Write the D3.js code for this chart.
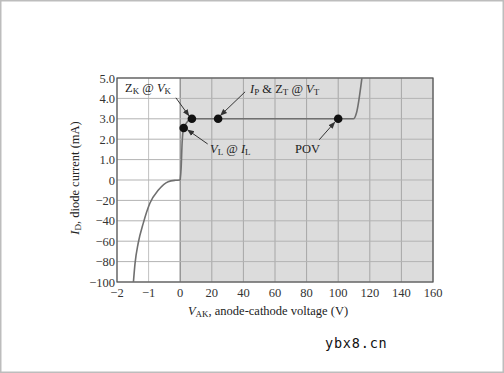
<!DOCTYPE html>
<html>
<head>
<meta charset="utf-8">
<script src="https://cdn.jsdelivr.net/npm/d3@7"></script>
<style>
  body { margin: 0; background: #fff; }
  svg { display: block; }
</style>
</head>
<body>
<div id="chart"></div>
<script>
// x ticks (V) and y ticks (mA) - both axes have a broken scale
var xTicks = [-2, -1, 0, 20, 40, 60, 80, 100, 120, 140, 160];
var yTicks = [-100, -80, -60, -40, -20, 0, 1, 2, 3, 4, 5];

// reverse-bias branch
var revV = [-1.48, -1.43, -1.33, -1.17, -0.96, -0.69, -0.38, -0.15, 0];
var revI = [-100, -82, -62, -42.5, -22.8, -9.8, -1.6, -0.3, 0];

// forward branch
var fwdV = [0, 0.6, 1.2, 2.2, 7.4, 100, 109.6, 111.6, 115];
var fwdI = [0, 0.6, 1.8, 2.55, 3.0, 3.0, 3.0, 3.3, 5.0];

// marked points
var markName = ["ZK", "IP", "VL", "POV"];
var markV = [7.4, 24, 2.2, 100];
var markI = [3.0, 3.0, 2.55, 3.0];

var W = 504, H = 373;
var mLeft = 117, mRight = 433, mTop = 78, mBottom = 282;

var svg = d3.select("#chart").append("svg")
    .attr("width", W)
    .attr("height", H);

// outer frame of the picture
svg.append("rect")
    .attr("x", 0.75).attr("y", 0.75)
    .attr("width", W - 1.5).attr("height", H - 1.5)
    .attr("fill", "none")
    .attr("stroke", "#bdbdbd")
    .attr("stroke-width", 1.5);

var x = d3.scaleLinear().domain([-2, 0, 160]).range([mLeft, mLeft + 63.2, mRight]);
var y = d3.scaleLinear().domain([-100, 0, 5]).range([mBottom, mBottom - 102, mTop]);

var g = svg.append("g");

// shaded forward region
g.append("rect")
    .attr("x", x(0)).attr("y", mTop)
    .attr("width", x(160) - x(0)).attr("height", mBottom - mTop)
    .attr("fill", "#dcdcdc");

// grid
g.selectAll(".vgrid").data(xTicks).enter().append("line")
    .attr("x1", d => x(d)).attr("x2", d => x(d))
    .attr("y1", mTop).attr("y2", mBottom)
    .attr("stroke", d => d == 0 ? "#8a8a8a" : (d > 0 ? "#a6a6a6" : "#c2c2c2"))
    .attr("stroke-width", d => d == 0 ? 1.3 : 1);
g.selectAll(".hgrid").data(yTicks).enter().append("line")
    .attr("x1", mLeft).attr("x2", mRight)
    .attr("y1", d => y(d)).attr("y2", d => y(d))
    .attr("stroke", "#b3b3b3")
    .attr("stroke-width", 1);

// frame
g.append("rect")
    .attr("x", mLeft).attr("y", mTop)
    .attr("width", mRight - mLeft).attr("height", mBottom - mTop)
    .attr("fill", "none")
    .attr("stroke", "#555")
    .attr("stroke-width", 1.2);

var tickFont = "Liberation Serif";
function fmtX(d) { return d < 0 ? "\u2212" + (-d) : d; }
function fmtY(d) {
    if (d < 0) return "\u2212" + (-d);
    if (d == 0) return "0";
    return d.toFixed(1);
}

g.selectAll(".xt").data(xTicks).enter().append("text")
    .attr("x", d => x(d))
    .attr("y", mBottom + 15)
    .attr("text-anchor", "middle")
    .attr("font-family", tickFont)
    .attr("font-size", "12.5px")
    .attr("fill", "#333")
    .text(fmtX);

g.selectAll(".yt").data(yTicks).enter().append("text")
    .attr("x", mLeft - 2)
    .attr("y", d => y(d) + 4.5)
    .attr("text-anchor", "end")
    .attr("font-family", tickFont)
    .attr("font-size", "12.5px")
    .attr("fill", "#333")
    .text(fmtY);

// curves
var revPts = revV.map((v, i) => [v, revI[i]]);
var fwdPts = fwdV.map((v, i) => [v, fwdI[i]]);
var line = d3.line().x(d => x(d[0])).y(d => y(d[1])).curve(d3.curveMonotoneX);

g.append("path")
    .attr("d", line(revPts))
    .attr("fill", "none")
    .attr("stroke", "#707070")
    .attr("stroke-width", 1.6);
g.append("path")
    .attr("d", line(fwdPts))
    .attr("fill", "none")
    .attr("stroke", "#707070")
    .attr("stroke-width", 1.6);

// arrow heads
svg.append("defs").append("marker")
    .attr("id", "arr")
    .attr("viewBox", "0 0 10 10")
    .attr("refX", 9).attr("refY", 5)
    .attr("markerWidth", 7).attr("markerHeight", 7)
    .attr("markerUnits", "userSpaceOnUse")
    .attr("orient", "auto")
    .append("path")
    .attr("d", "M0,1 L10,5 L0,9 Z")
    .attr("fill", "#333");

// annotation arrows: offsets from the point, in px
var arrowFrom = { ZK: [-16, -21], IP: [27, -27], VL: [24, 16], POV: [-19, 21] };
var arrowTo = { ZK: [-3, -3], IP: [2.5, -3.5], VL: [4, 2], POV: [-3.5, 3.5] };

markName.forEach(function (n, i) {
    var px = x(markV[i]), py = y(markI[i]);
    g.append("line")
        .attr("x1", px + arrowFrom[n][0]).attr("y1", py + arrowFrom[n][1])
        .attr("x2", px + arrowTo[n][0]).attr("y2", py + arrowTo[n][1])
        .attr("stroke", "#333")
        .attr("stroke-width", 1)
        .attr("marker-end", "url(#arr)");
});

g.selectAll(".dot").data(markName).enter().append("circle")
    .attr("cx", (d, i) => x(markV[i]))
    .attr("cy", (d, i) => y(markI[i]))
    .attr("r", 4.3)
    .attr("fill", "#111");

// labels with sub-scripts
function rich(sel, parts) {
    parts.forEach(function (p) {
        var t = sel.append("tspan").text(p[0]);
        if (p[1] == "i") t.attr("font-style", "italic");
        if (p[1] == "s") t.attr("font-size", "0.72em").attr("baseline-shift", "-22%");
    });
}

function label(xp, yp, parts, anchor) {
    var t = g.append("text")
        .attr("x", xp).attr("y", yp)
        .attr("font-family", tickFont)
        .attr("font-size", "12.5px")
        .attr("fill", "#222")
        .attr("text-anchor", anchor || "start");
    rich(t, parts);
    return t;
}

label(125, 92, [["Z", ""], ["K", "s"], [" @ ", ""], ["V", "i"], ["K", "s"]]);
label(250, 93, [["I", "i"], ["P", "s"], [" & Z", ""], ["T", "s"], [" @ ", ""], ["V", "i"], ["T", "s"]]);
label(210, 153, [["V", "i"], ["L", "s"], [" @ ", ""], ["I", "i"], ["L", "s"]]);
label(295, 153, [["POV", ""]]);

// axis titles
label(268, 315, [["V", "i"], ["AK", "s"], [", anode-cathode voltage (V)", ""]], "middle");
var yl = g.append("text")
    .attr("transform", "translate(79,178) rotate(-90)")
    .attr("text-anchor", "middle")
    .attr("font-family", tickFont)
    .attr("font-size", "12.5px")
    .attr("fill", "#222");
rich(yl, [["I", "i"], ["D", "s"], [", diode current (mA)", ""]]);

// watermark
svg.append("text")
    .attr("x", 325).attr("y", 348)
    .attr("font-family", "DejaVu Sans Mono")
    .attr("font-size", "13.5px")
    .attr("letter-spacing", "0.8px")
    .attr("fill", "#111")
    .text("ybx8.cn");
</script>
</body>
</html>
